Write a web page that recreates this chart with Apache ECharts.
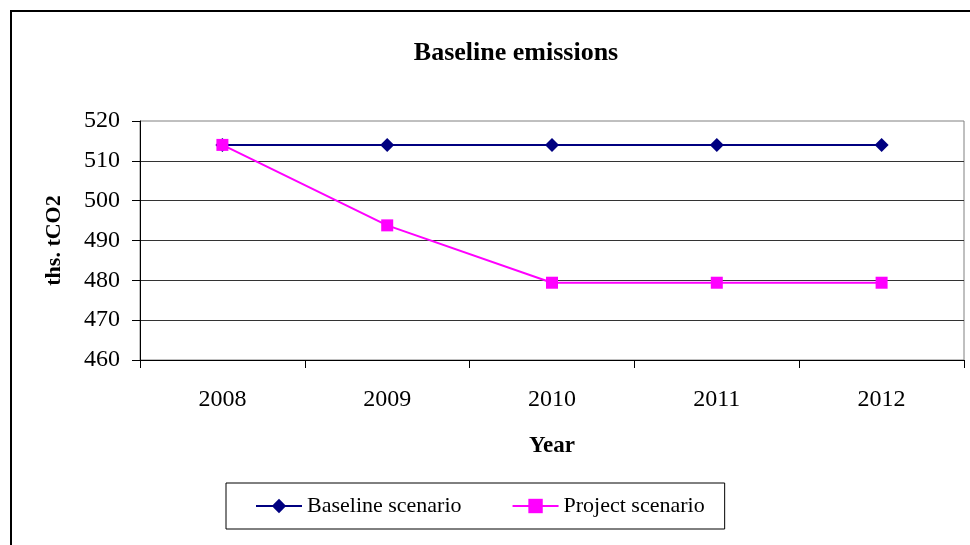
<!DOCTYPE html>
<html>
<head>
<meta charset="utf-8">
<script src="https://cdn.jsdelivr.net/npm/echarts@6/dist/echarts.min.js"></script>
<style>
html,body{margin:0;padding:0;background:#fff;}
#chart{width:970px;height:545px;}
</style>
</head>
<body>
<div id="chart"></div>
<script>
const years = ['2008', '2009', '2010', '2011', '2012'];
const baselineScenario = [514, 514, 514, 514, 514];
const projectScenario = [514, 493.8, 479.4, 479.4, 479.4];
const yTicks = { min: 460, max: 520, interval: 10 };

const FONT = "'Liberation Serif', 'Times New Roman', serif";
const chart = echarts.init(document.getElementById('chart'), null, { renderer: 'canvas' });
chart.setOption({
  backgroundColor: '#fff',
  animation: false,
  textStyle: { fontFamily: FONT },
  graphic: [{
    type: 'rect', silent: true, z: 100,
    shape: { x: 11, y: 11, width: 1000, height: 1000 },
    style: { fill: 'none', stroke: '#000', lineWidth: 2 }
  }],
  title: {
    text: 'Baseline emissions',
    left: 516, textAlign: 'center', top: 40, padding: 0,
    textStyle: { fontFamily: FONT, fontWeight: 'bold', fontSize: 26, color: '#000' }
  },
  grid: {
    left: 140, top: 121, right: 6, bottom: 185,
    show: true, borderColor: '#808080', borderWidth: 1, backgroundColor: '#fff'
  },
  legend: {
    left: 226, top: 483,
    padding: [12, 20, 12, 29],
    borderColor: '#000', borderWidth: 1,
    itemWidth: 46, itemHeight: 18, itemGap: 50,
    textStyle: { fontFamily: FONT, fontSize: 22, color: '#000', padding: [0, 0, 0, 0] },
    data: ['Baseline scenario', 'Project scenario']
  },
  xAxis: {
    type: 'category',
    data: years,
    boundaryGap: true,
    name: 'Year', nameLocation: 'middle', nameGap: 75,
    nameTextStyle: { fontFamily: FONT, fontWeight: 'bold', fontSize: 23, color: '#000' },
    axisLine: { lineStyle: { color: '#000', width: 1 } },
    axisTick: { show: true, length: 8, lineStyle: { color: '#000' } },
    axisLabel: { margin: 28, fontFamily: FONT, fontSize: 24, color: '#000' },
    splitLine: { show: false }
  },
  yAxis: {
    type: 'value',
    min: yTicks.min, max: yTicks.max, interval: yTicks.interval,
    name: 'ths. tCO2', nameLocation: 'middle', nameGap: 75, nameRotate: 90,
    nameTextStyle: { fontFamily: FONT, fontWeight: 'bold', fontSize: 22, color: '#000' },
    axisLine: { show: true, lineStyle: { color: '#000', width: 1 } },
    axisTick: { show: true, length: 8, lineStyle: { color: '#000' } },
    axisLabel: { margin: 20, fontFamily: FONT, fontSize: 24, color: '#000' },
    splitLine: { show: true, showMaxLine: false, lineStyle: { color: '#333', width: 1 } }
  },
  series: [
    {
      name: 'Baseline scenario', type: 'line', data: baselineScenario,
      symbol: 'diamond', symbolSize: 14,
      lineStyle: { color: '#000080', width: 2 },
      itemStyle: { color: '#000080' }
    },
    {
      name: 'Project scenario', type: 'line', data: projectScenario,
      symbol: 'rect', symbolSize: 12,
      lineStyle: { color: '#FF00FF', width: 2 },
      itemStyle: { color: '#FF00FF' }
    }
  ]
});
</script>
</body>
</html>
